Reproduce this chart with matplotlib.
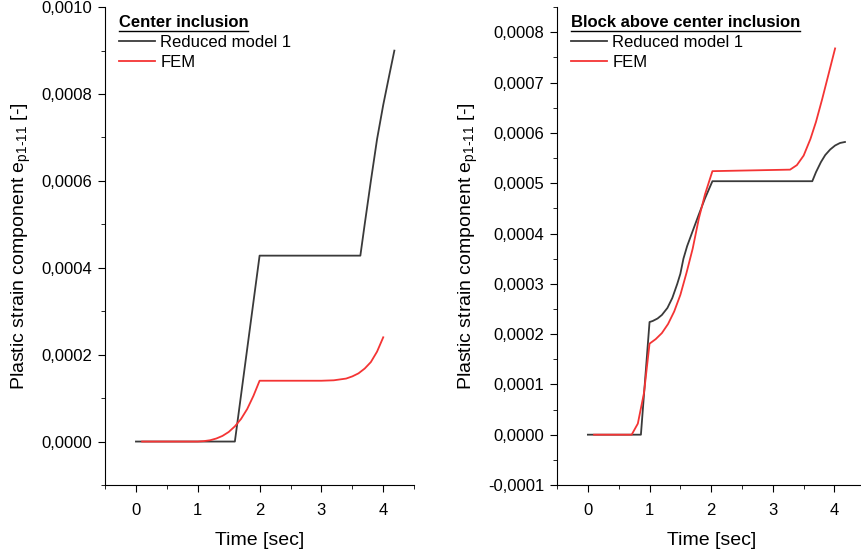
import numpy as np
import matplotlib.pyplot as plt
from matplotlib.ticker import FuncFormatter, MultipleLocator
from matplotlib.lines import Line2D

plt.rcParams['font.family'] = ['Liberation Sans', 'DejaVu Sans']
plt.rcParams['mathtext.fontset'] = 'custom'
plt.rcParams['mathtext.rm'] = 'Liberation Sans'

# Left panel: center inclusion
t_red_center = [0.0, 1.6, 2.0, 3.63, 3.7, 3.8, 3.9, 4.0, 4.1, 4.18]
e_red_center = [0.0, 0.0, 0.000428, 0.000428, 0.0005, 0.0006, 0.000696, 0.000775,
                0.000845, 0.0009]
t_fem_center = [0.1, 1.0, 1.1, 1.2, 1.3, 1.4, 1.5, 1.6, 1.7, 1.8, 1.9, 2.0,
                3.0, 3.2, 3.4, 3.5, 3.6, 3.7, 3.8, 3.9, 4.0]
e_fem_center = [0.0, 0.0, 0.000001, 0.000003, 0.000007, 0.000013, 0.000022, 0.000035,
                0.000052, 0.000075, 0.000105, 0.00014,
                0.00014, 0.000141, 0.000145, 0.00015, 0.000157, 0.000168, 0.000183,
                0.000207, 0.00024]

# Right panel: block above center inclusion
t_red_block = [0.0, 0.86, 1.0, 1.05, 1.13, 1.2, 1.29, 1.37, 1.45, 1.5, 1.55, 1.61, 1.7,
               1.8, 1.9, 2.02, 3.64, 3.7, 3.78, 3.85, 3.93, 4.01, 4.09, 4.17]
e_red_block = [0.0, 0.0, 0.000224, 0.000226, 0.000231, 0.000238, 0.000252, 0.000272,
               0.0003, 0.00032, 0.00035, 0.000375, 0.000405, 0.000438, 0.00047, 0.000504,
               0.000504, 0.000522, 0.000542, 0.000556, 0.000567, 0.000575, 0.00058,
               0.000582]
t_fem_block = [0.1, 0.71, 0.81, 0.91, 1.0, 1.1, 1.2, 1.3, 1.4, 1.5, 1.6, 1.7, 1.8, 1.9,
               2.02, 3.28, 3.39, 3.5, 3.61, 3.7, 3.8, 3.9, 4.01]
e_fem_block = [0.0, 0.0, 0.000022, 0.000083, 0.000181, 0.00019, 0.000202, 0.00022,
               0.000245, 0.000278, 0.000322, 0.00037, 0.00043, 0.000478, 0.000524,
               0.000527, 0.000536, 0.000555, 0.000588, 0.000622, 0.000667, 0.000715,
               0.000768]

panels = [
    ('Center inclusion', t_red_center, e_red_center, t_fem_center, e_fem_center,
     (-0.0001, 0.0010), 0.0002),
    ('Block above center inclusion', t_red_block, e_red_block, t_fem_block, e_fem_block,
     (-0.0001, 0.00085), 0.0001),
]
positions = [[0.122, 0.123, 0.359, 0.864], [0.647, 0.123, 0.358, 0.864]]

dark = '#3a3a3a'
red = '#f43434'

comma = FuncFormatter(lambda v, p: ('%.4f' % v).replace('.', ',').replace('-0,0000', '0,0000'))

fig = plt.figure(figsize=(8.61, 5.53), dpi=100)
legends = []
for pos, (title, tr, er, tf, ef, ylim, ystep) in zip(positions, panels):
    ax = fig.add_axes(pos)
    ax.plot(tr, er, color=dark, lw=1.3, label='Reduced model 1')
    ax.plot(tf, ef, color=red, lw=1.3, label='FEM')
    ax.set_xlim(-0.5, 4.5)
    ax.set_ylim(*ylim)
    ax.xaxis.set_major_locator(MultipleLocator(1))
    ax.xaxis.set_minor_locator(MultipleLocator(0.5))
    ax.yaxis.set_major_locator(MultipleLocator(ystep))
    ax.yaxis.set_minor_locator(MultipleLocator(ystep / 2))
    ax.yaxis.set_major_formatter(comma)
    ax.spines['top'].set_visible(False)
    ax.spines['right'].set_visible(False)
    ax.tick_params(which='major', direction='out', length=5, labelsize=12, pad=4)
    ax.tick_params(axis='x', which='major', pad=8)
    ax.tick_params(which='minor', direction='out', length=3)
    ax.set_xlabel('Time [sec]', fontsize=14, labelpad=10)
    ax.set_ylabel('Plastic strain component e$_{\\mathregular{p1\\text{-}11}}$ [-]',
                  fontsize=14, labelpad=6)
    leg = ax.legend(loc='upper left', bbox_to_anchor=(0.033, 0.99), frameon=False,
                    title=title, title_fontproperties={'weight': 'bold', 'size': 12},
                    alignment='left', fontsize=12, handlelength=2.2, handletextpad=0.3,
                    borderpad=0.2, labelspacing=0.3, borderaxespad=0)
    legends.append(leg)

fig.canvas.draw()
for leg in legends:
    bb = leg.get_title().get_window_extent()
    fig.add_artist(Line2D([bb.x0, bb.x1], [bb.y0 - 1, bb.y0 - 1], color='black', lw=1.0,
                          transform=None))

fig.savefig('out.png', dpi=100)
